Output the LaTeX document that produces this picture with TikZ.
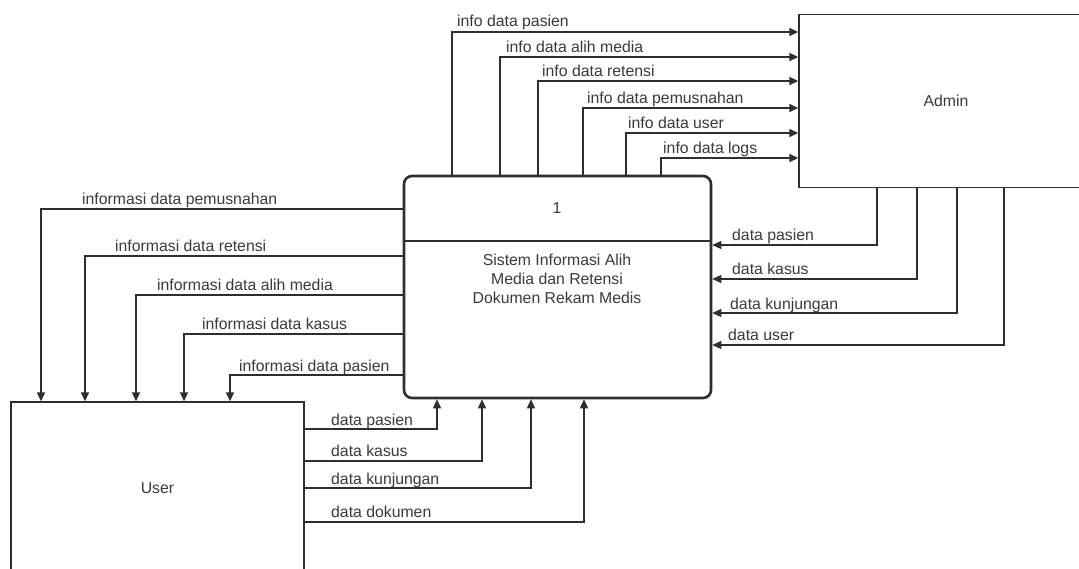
\documentclass[tikz,border=0pt]{standalone}
\usepackage{fontspec}
\setmainfont{Liberation Sans}
\usetikzlibrary{arrows.meta}
\definecolor{ln}{HTML}{2E2E2E}
\definecolor{tx}{HTML}{3A3A3A}
\tikzset{
  box/.style={draw=ln, line width=1.4pt, inner sep=0pt, text=tx, font=\fontsize{15.8}{19}\selectfont},
  procbox/.style={draw=ln, line width=2.6pt, rounded corners=8pt, inner sep=0pt},
  flow/.style={draw=ln, line width=1.4pt, -{Triangle[length=9pt,width=8pt]}},
  lab/.style={anchor=base west, inner sep=0pt, text=tx, font=\fontsize{15.8}{19}\selectfont},
  ptxt/.style={inner sep=0pt, text=tx, align=center, font=\fontsize{15.8}{19}\selectfont}
}
\begin{document}
\begin{tikzpicture}[x=1pt,y=-1pt]
\useasboundingbox (0,0) rectangle (1079,569);
\clip (0,0) rectangle (1079,569);
\fill[white] (0,0) rectangle (1079,569);

% nodes
\node[procbox, minimum width=307pt, minimum height=222pt] (proc) at (557.5,287) {};
\node[box, minimum width=294pt, minimum height=173pt] (admin) at (946,101) {Admin};
\node[box, minimum width=293pt, minimum height=173pt] (user) at (157.5,488.5) {User};
\draw[ln, line width=2.6pt] (proc.west |- 0,241) coordinate (dl) -- (proc.east |- 0,241) coordinate (dr);
\node[ptxt] (pnum) at (557,208) {1};
\node[ptxt, anchor=base] (pname) at (557,303.5) {Sistem Informasi Alih\\Media dan Retensi\\Dokumen Rekam Medis};

% process -> admin
\draw[flow] (proc.north -| 452,0) |- (admin.west |- 0,32);
\draw[flow] (proc.north -| 500,0) |- (admin.west |- 0,57);
\draw[flow] (proc.north -| 538,0) |- (admin.west |- 0,81);
\draw[flow] (proc.north -| 583,0) |- (admin.west |- 0,108);
\draw[flow] (proc.north -| 626,0) |- (admin.west |- 0,133);
\draw[flow] (proc.north -| 661,0) |- (admin.west |- 0,158);
\node[lab] (t1) at (457,27) {info data pasien};
\node[lab] (t2) at (506,52.5) {info data alih media};
\node[lab] (t3) at (542,76.5) {info data retensi};
\node[lab] (t4) at (587,103.5) {info data pemusnahan};
\node[lab] (t5) at (628,128.5) {info data user};
\node[lab] (t6) at (663,153.5) {info data logs};

% admin -> process
\draw[flow] (admin.south -| 877,0) |- (proc.east |- 0,245);
\draw[flow] (admin.south -| 917,0) |- (proc.east |- 0,279);
\draw[flow] (admin.south -| 957,0) |- (proc.east |- 0,313);
\draw[flow] (admin.south -| 1004,0) |- (proc.east |- 0,345);
\node[lab] (r1) at (732,241) {data pasien};
\node[lab] (r2) at (732,275) {data kasus};
\node[lab] (r3) at (730,309) {data kunjungan};
\node[lab] (r4) at (728,341) {data user};

% process -> user
\draw[flow] (proc.west |- 0,209) -| (user.north -| 41,0);
\draw[flow] (proc.west |- 0,256) -| (user.north -| 85,0);
\draw[flow] (proc.west |- 0,295) -| (user.north -| 136,0);
\draw[flow] (proc.west |- 0,334) -| (user.north -| 184,0);
\draw[flow] (proc.west |- 0,375) -| (user.north -| 230,0);
\node[lab] (l1) at (82,205) {informasi data pemusnahan};
\node[lab] (l2) at (115,252) {informasi data retensi};
\node[lab] (l3) at (157,291) {informasi data alih media};
\node[lab] (l4) at (202,330) {informasi data kasus};
\node[lab] (l5) at (239,371) {informasi data pasien};

% user -> process
\draw[flow] (user.east |- 0,429) -| (proc.south -| 437,0);
\draw[flow] (user.east |- 0,461) -| (proc.south -| 482,0);
\draw[flow] (user.east |- 0,488) -| (proc.south -| 531,0);
\draw[flow] (user.east |- 0,522) -| (proc.south -| 584,0);
\node[lab] (b1) at (331,425) {data pasien};
\node[lab] (b2) at (331,456) {data kasus};
\node[lab] (b3) at (331,484) {data kunjungan};
\node[lab] (b4) at (331,517) {data dokumen};
\end{tikzpicture}
\end{document}
